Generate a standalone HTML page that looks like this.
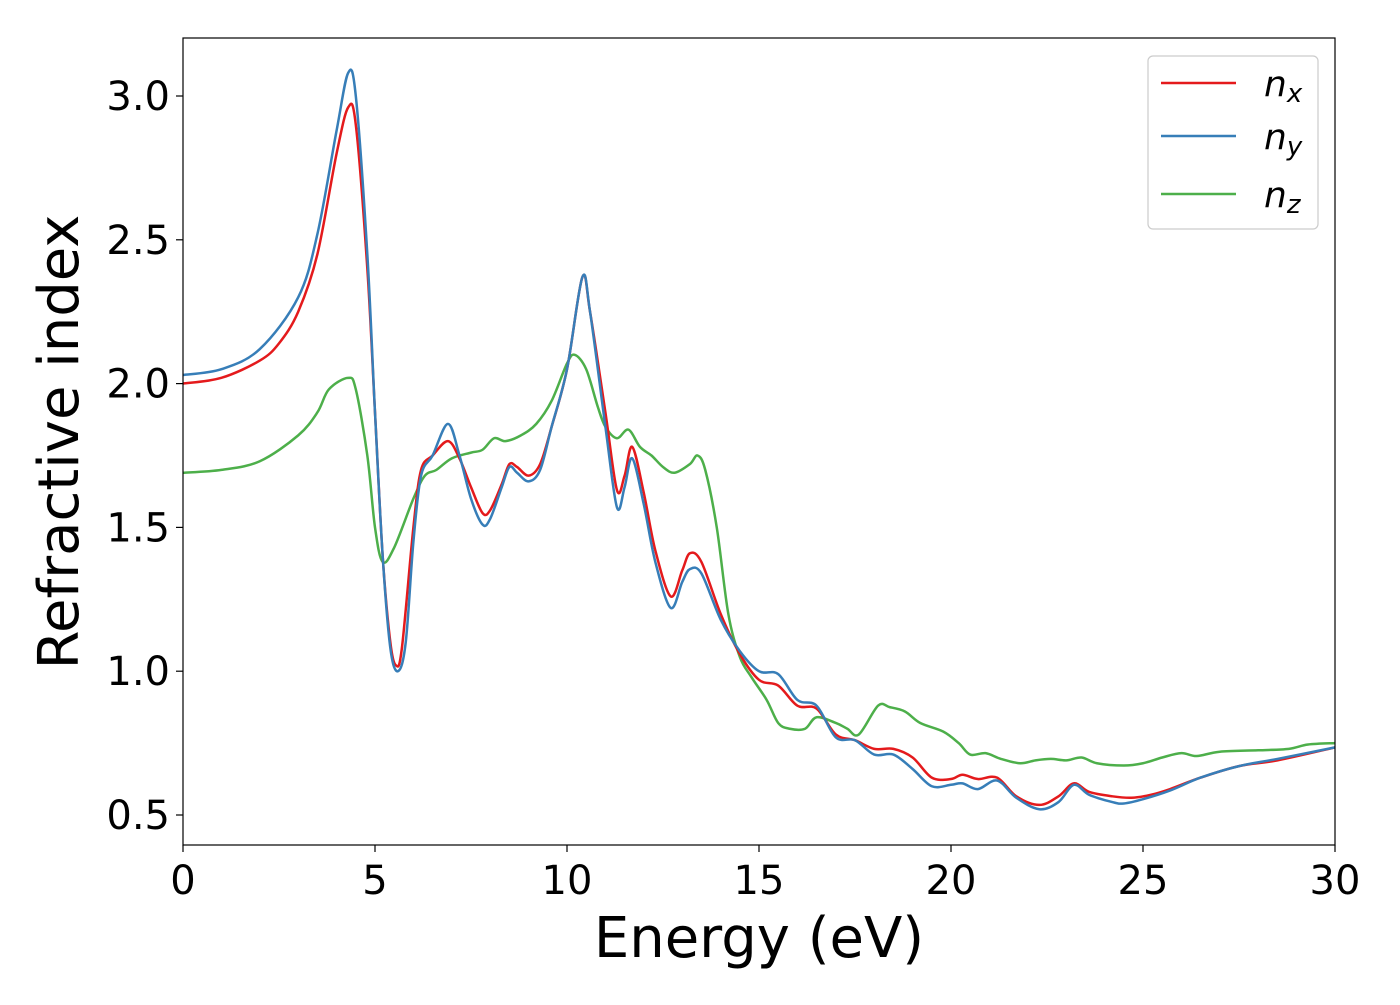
<!DOCTYPE html>
<html><head><meta charset="utf-8"><style>
html,body{margin:0;padding:0;background:#fff;}
svg text{font-family:"DejaVu Sans","Liberation Sans",sans-serif;fill:#000;}
</style></head><body>
<svg id="chart" width="1400" height="1000" viewBox="0 0 1400 1000" xmlns="http://www.w3.org/2000/svg">
<g id="series"></g>
<rect x="183" y="38" width="1152" height="807" fill="none" stroke="#000" stroke-width="1.2"/>
<g id="xticks"></g>
<g id="yticks"></g>
<text x="759" y="957" font-size="56" text-anchor="middle">Energy (eV)</text>
<text transform="translate(78,442) rotate(-90)" font-size="56" text-anchor="middle">Refractive index</text>
<g>
<rect x="1148" y="56" width="170" height="173" rx="5" fill="#fff" stroke="#ccc" stroke-width="1.2"/>
<line x1="1161" y1="83" x2="1236" y2="83" stroke="#e41a1c" stroke-width="2.5"/>
<line x1="1161" y1="136" x2="1236" y2="136" stroke="#377eb8" stroke-width="2.5"/>
<line x1="1161" y1="194" x2="1236" y2="194" stroke="#4daf4a" stroke-width="2.5"/>
<text x="1264" y="96" font-size="36" font-style="italic">n<tspan font-size="26" dy="6">x</tspan></text>
<text x="1264" y="149" font-size="36" font-style="italic">n<tspan font-size="26" dy="6">y</tspan></text>
<text x="1264" y="207" font-size="36" font-style="italic">n<tspan font-size="26" dy="6">z</tspan></text>
</g>
</svg>
<script>
const xTicks = [0, 5, 10, 15, 20, 25, 30];
const yTicks = [0.5, 1.0, 1.5, 2.0, 2.5, 3.0];
const nxE = [0,1,2,2.5,3,3.5,4,4.3,4.5,4.8,5.0,5.2,5.4,5.55,5.7,6.0,6.2,6.5,6.9,7.2,7.5,7.8,8.0,8.3,8.5,8.7,9.0,9.3,9.6,10.0,10.4,10.6,11.0,11.3,11.5,11.7,12.0,12.3,12.7,13.0,13.2,13.5,14.0,14.5,15.0,15.5,16,16.5,17,17.5,18,18.5,19,19.5,20,20.3,20.7,21.2,21.7,22.3,22.8,23.2,23.6,24.2,24.7,25.2,25.7,26.5,27.5,28.5,30];
const nxV = [2.0,2.02,2.08,2.14,2.25,2.45,2.8,2.96,2.9,2.4,1.9,1.4,1.1,1.02,1.08,1.5,1.7,1.75,1.8,1.74,1.64,1.55,1.56,1.65,1.72,1.71,1.68,1.72,1.85,2.05,2.37,2.25,1.9,1.63,1.68,1.78,1.62,1.42,1.26,1.35,1.41,1.38,1.2,1.06,0.97,0.95,0.88,0.87,0.78,0.76,0.73,0.73,0.7,0.63,0.625,0.64,0.625,0.63,0.565,0.535,0.565,0.61,0.58,0.565,0.56,0.57,0.59,0.63,0.67,0.69,0.735];
const nyE = [0,1,2,3,3.5,4,4.3,4.5,4.8,5.0,5.2,5.4,5.6,5.8,6.0,6.2,6.5,6.9,7.2,7.5,7.8,8.0,8.3,8.5,8.7,9.0,9.3,9.6,10,10.4,10.6,11.0,11.3,11.5,11.7,12.0,12.3,12.7,13.0,13.2,13.5,14,14.5,15,15.5,16,16.5,17,17.5,18,18.5,19,19.5,20,20.3,20.7,21.2,21.7,22.3,22.8,23.2,23.6,24.2,24.5,25,25.7,26.5,27.5,28.5,30];
const nyV = [2.03,2.05,2.12,2.3,2.52,2.88,3.08,3.0,2.45,1.9,1.4,1.08,1.0,1.1,1.45,1.68,1.75,1.86,1.75,1.6,1.51,1.53,1.64,1.71,1.69,1.66,1.7,1.85,2.05,2.37,2.25,1.85,1.57,1.64,1.74,1.58,1.38,1.22,1.31,1.355,1.34,1.18,1.07,1.0,0.99,0.9,0.88,0.77,0.76,0.71,0.71,0.66,0.6,0.605,0.61,0.59,0.62,0.56,0.52,0.545,0.605,0.57,0.545,0.54,0.555,0.585,0.63,0.67,0.695,0.735];
const nzE = [0,1,2,3,3.5,3.8,4.3,4.5,4.8,5.0,5.2,5.5,6.0,6.3,6.6,7.0,7.5,7.8,8.1,8.4,8.8,9.2,9.6,10.0,10.2,10.5,10.8,11.0,11.3,11.6,11.9,12.2,12.5,12.8,13.2,13.4,13.6,13.9,14.2,14.5,14.8,15.2,15.5,15.8,16.2,16.5,17,17.3,17.6,18.1,18.4,18.8,19.2,19.8,20.2,20.5,20.9,21.3,21.8,22.2,22.6,23.0,23.4,23.8,24.5,25.0,25.5,26.0,26.4,27,28,28.8,29.3,30];
const nzV = [1.69,1.7,1.73,1.82,1.9,1.98,2.02,1.98,1.75,1.5,1.38,1.43,1.6,1.68,1.7,1.74,1.76,1.77,1.81,1.8,1.82,1.86,1.94,2.07,2.1,2.05,1.92,1.85,1.81,1.84,1.78,1.75,1.71,1.69,1.72,1.75,1.7,1.5,1.2,1.05,0.98,0.9,0.82,0.8,0.8,0.84,0.82,0.8,0.78,0.88,0.875,0.86,0.82,0.79,0.75,0.71,0.715,0.695,0.68,0.69,0.695,0.69,0.7,0.68,0.672,0.68,0.7,0.715,0.705,0.72,0.725,0.73,0.745,0.75];

const NS = "http://www.w3.org/2000/svg";
function xs(e){ return 183 + (e - 0) / 30 * 1152; }
function ys(v){ return 815 - (v - 0.5) * 287.6; }

function smoothPath(E, V){
  const p = E.map((e,i)=>[xs(e), ys(V[i])]);
  let d = "M" + p[0][0].toFixed(2) + "," + p[0][1].toFixed(2);
  for (let i=0;i<p.length-1;i++){
    const p0=p[Math.max(0,i-1)], p1=p[i], p2=p[i+1], p3=p[Math.min(p.length-1,i+2)];
    const c1=[p1[0]+(p2[0]-p0[0])/6, p1[1]+(p2[1]-p0[1])/6];
    const c2=[p2[0]-(p3[0]-p1[0])/6, p2[1]-(p3[1]-p1[1])/6];
    d += " C"+c1[0].toFixed(2)+","+c1[1].toFixed(2)+" "+c2[0].toFixed(2)+","+c2[1].toFixed(2)+" "+p2[0].toFixed(2)+","+p2[1].toFixed(2);
  }
  return d;
}

const sg = document.getElementById("series");
function addLine(E, V, color, name){
  const path = document.createElementNS(NS, "path");
  path.setAttribute("d", smoothPath(E, V));
  path.setAttribute("fill", "none");
  path.setAttribute("stroke", color);
  path.setAttribute("stroke-width", "2.5");
  path.setAttribute("stroke-linejoin", "round");
  
  
  sg.appendChild(path);
}
addLine(nzE, nzV, "#4daf4a", "series-nz");
addLine(nxE, nxV, "#e41a1c", "series-nx");
addLine(nyE, nyV, "#377eb8", "series-ny");

const xg = document.getElementById("xticks");
xTicks.forEach(t=>{
  const l = document.createElementNS(NS, "line");
  l.setAttribute("x1", xs(t)); l.setAttribute("x2", xs(t));
  l.setAttribute("y1", 845); l.setAttribute("y2", 852);
  l.setAttribute("stroke", "#000"); l.setAttribute("stroke-width", "1.2");
  
  
  xg.appendChild(l);
  const tx = document.createElementNS(NS, "text");
  tx.setAttribute("x", xs(t)); tx.setAttribute("y", 894);
  tx.setAttribute("font-size", "40"); tx.setAttribute("text-anchor", "middle");
  tx.textContent = String(t);
  
  
  xg.appendChild(tx);
});
const yg = document.getElementById("yticks");
yTicks.forEach(t=>{
  const l = document.createElementNS(NS, "line");
  l.setAttribute("x1", 176); l.setAttribute("x2", 183);
  l.setAttribute("y1", ys(t)); l.setAttribute("y2", ys(t));
  l.setAttribute("stroke", "#000"); l.setAttribute("stroke-width", "1.2");
  
  
  yg.appendChild(l);
  const tx = document.createElementNS(NS, "text");
  tx.setAttribute("x", 170); tx.setAttribute("y", ys(t) + 14);
  tx.setAttribute("font-size", "40"); tx.setAttribute("text-anchor", "end");
  tx.textContent = t.toFixed(1);
  
  
  yg.appendChild(tx);
});
</script>
</body></html>
